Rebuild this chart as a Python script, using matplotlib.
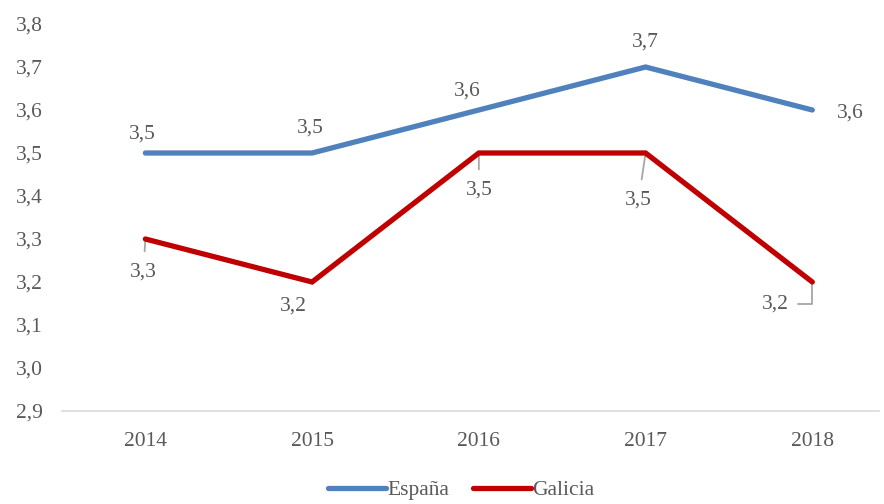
import numpy as np
import matplotlib.pyplot as plt

years = ["2014", "2015", "2016", "2017", "2018"]
espana = [3.5, 3.5, 3.6, 3.7, 3.6]
galicia = [3.3, 3.2, 3.5, 3.5, 3.2]
y_ticks = [2.9, 3.0, 3.1, 3.2, 3.3, 3.4, 3.5, 3.6, 3.7, 3.8]

# label offsets in pixels (dx, dy) relative to the point
esp_offsets = [(-3, 19), (-2, 25), (-12, 19), (0, 25), (38, -3)]
gal_offsets = [(-2, -33), (-19, -24), (0, -37), (-7, -47), (-37, -22)]
gal_leader = [True, False, True, True, True]

plt.rcParams['font.family'] = ['Liberation Serif', 'DejaVu Serif']
text_color = '#595959'
fs = 15.5

fig = plt.figure(figsize=(8.84, 5.04), dpi=100)
ax = fig.add_axes([62 / 884, 93 / 504, 817 / 884, 387 / 504])

x = np.arange(len(years))
ax.plot(x, espana, color='#4F81BD', lw=3.8, solid_capstyle='round',
        solid_joinstyle='miter', label='España', zorder=3)
ax.plot(x, galicia, color='#C00000', lw=3.8, solid_capstyle='round',
        solid_joinstyle='miter', label='Galicia', zorder=3)

fmt = lambda v: f"{v:.1f}".replace('.', ',')

for xi, v, (dx, dy) in zip(x, espana, esp_offsets):
    ax.annotate(fmt(v), (xi, v), xytext=(dx, dy), textcoords='offset pixels',
                ha='center', va='center', fontsize=fs, color=text_color)

for i, (xi, v, (dx, dy)) in enumerate(zip(x, galicia, gal_offsets)):
    arrow = None
    if gal_leader[i]:
        cs = 'angle,angleA=0,angleB=90,rad=0' if i == 4 else 'arc3'
        arrow = dict(arrowstyle='-', color='#a6a6a6', lw=1.3,
                     shrinkA=5 if i == 4 else 6, shrinkB=1, connectionstyle=cs)
    ax.annotate(fmt(v), (xi, v), xytext=(dx, dy), textcoords='offset pixels',
                ha='center', va='center', fontsize=fs, color=text_color,
                arrowprops=arrow, zorder=2)

ax.set_xlim(-0.5, 4.4)
ax.set_ylim(2.9, 3.8)
ax.set_xticks(x)
ax.set_xticklabels(years)
ax.set_yticks(y_ticks)
ax.set_yticklabels([fmt(t) for t in y_ticks])
ax.tick_params(axis='both', length=0, labelsize=fs, labelcolor=text_color)
ax.tick_params(axis='y', pad=14)
ax.tick_params(axis='x', pad=15)

for s in ['top', 'right', 'left']:
    ax.spines[s].set_visible(False)
ax.spines['bottom'].set_color('#d9d9d9')
ax.spines['bottom'].set_linewidth(1.2)

leg = fig.legend(loc='center', bbox_to_anchor=(461 / 884, 1 - 490 / 504),
                 ncol=2, frameon=False, fontsize=fs, handlelength=2.7,
                 handletextpad=0.05, columnspacing=1.1)
for t in leg.get_texts():
    t.set_color(text_color)

fig.savefig('out.png', dpi=100)
